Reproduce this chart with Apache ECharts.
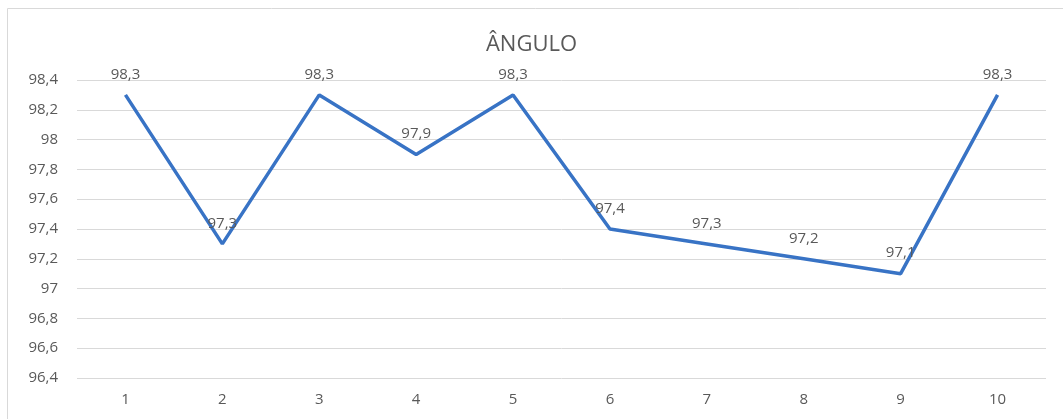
<!DOCTYPE html>
<html>
<head>
<meta charset="utf-8">
<script src="https://cdn.jsdelivr.net/npm/echarts@6/dist/echarts.min.js"></script>
<style>
  html, body { margin: 0; padding: 0; background: #fff; }
  #echarts_line { width: 1063px; height: 419px; }
</style>
</head>
<body>
<div id="echarts_line"></div>
<script>
var categories = ['1', '2', '3', '4', '5', '6', '7', '8', '9', '10'];
var valueList = [98.3, 97.3, 98.3, 97.9, 98.3, 97.4, 97.3, 97.2, 97.1, 98.3];
var yTicks = [96.4, 98.4, 0.2]; // min, max, step

function comma(v) {
    return String(Math.round(v * 10) / 10).replace('.', ',');
}

var dom = document.getElementById("echarts_line");
var myChart = echarts.init(dom);
var option = null;

option = {
    animation: false,
    textStyle: { fontFamily: 'Open Sans' },
    graphic: [{
        type: 'rect',
        shape: { x: 7.5, y: 8.5, width: 1070, height: 420 },
        style: { fill: 'none', stroke: '#d9d9d9', lineWidth: 1 }
    }],
    title: [{
        left: 'center',
        top: 29,
        text: 'ÂNGULO',
        textStyle: { color: '#595959', fontSize: 22, fontWeight: 'normal', fontFamily: 'Open Sans' }
    }],
    grid: { left: 77, right: 17, top: 80, bottom: 41 },
    xAxis: [{
        type: 'category',
        data: categories,
        axisLine: { show: false },
        axisTick: { show: false },
        axisLabel: { color: '#595959', fontSize: 15, margin: 14 }
    }],
    yAxis: [{
        type: 'value',
        min: yTicks[0],
        max: yTicks[1],
        interval: yTicks[2],
        axisLine: { show: false },
        axisTick: { show: false },
        axisLabel: { color: '#595959', fontSize: 15, margin: 19, formatter: comma },
        splitLine: { show: true, lineStyle: { color: '#d9d9d9', width: 1 } }
    }],
    series: [{
        name: 'Ângulo',
        type: 'line',
        symbol: 'circle',
        symbolSize: 0,
        showSymbol: true,
        data: valueList,
        lineStyle: { color: '#3873c5', width: 3.5 },
        itemStyle: { color: '#3873c5' },
        label: {
            show: true,
            position: 'top',
            distance: 13,
            color: '#595959',
            fontSize: 15,
            formatter: function (p) { return comma(p.value); }
        }
    }]
};
if (option && typeof option === "object") {
    myChart.setOption(option, true);
}
</script>
</body>
</html>
